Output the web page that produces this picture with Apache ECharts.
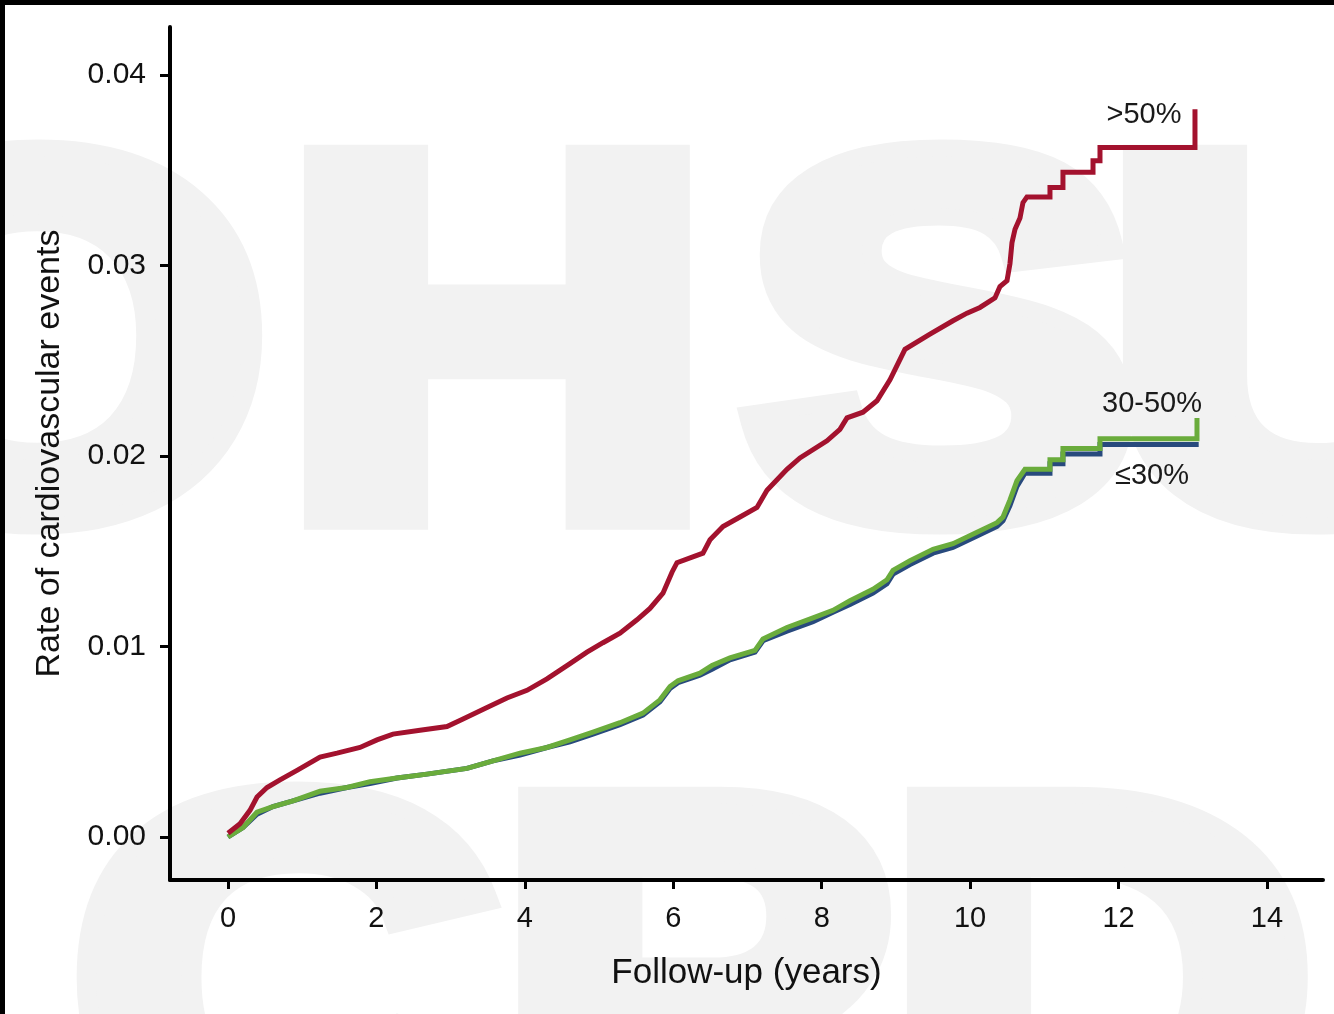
<!DOCTYPE html>
<html>
<head>
<meta charset="utf-8">
<script src="https://cdn.jsdelivr.net/npm/echarts@6.0.0/dist/echarts.min.js"></script>
<style>
html,body{margin:0;padding:0;background:#fff;}
#chart{width:1334px;height:1014px;}
</style>
</head>
<body>
<div id="chart"></div>
<script>
// ---- data ----
const xTicks = [0, 2, 4, 6, 8, 10, 12, 14];
const yTicks = [0, 0.01, 0.02, 0.03, 0.04];

const seriesNames = ['>50%', '30-50%', '≤30%'];

// >50%  (dense early part, then the visible steps of the tail)
const redT = [0, 0.162, 0.296, 0.391, 0.526, 0.701, 0.930, 1.240, 1.469, 1.779, 2.008, 2.223, 2.587, 2.951, 3.167, 3.490, 3.759, 4.029, 4.298, 4.608, 4.837, 5.053, 5.282, 5.511, 5.686, 5.861, 5.983, 6.050, 6.400, 6.495, 6.670, 6.899, 7.128, 7.263, 7.532, 7.707, 8.071, 8.246, 8.341, 8.556, 8.745, 8.920, 9.122, 9.459, 9.769, 9.958, 10.133, 10.335, 10.402, 10.497, 10.537, 10.564, 10.605, 10.672, 10.712, 10.766, 11.076, 11.076, 11.251, 11.251, 11.656, 11.656, 11.750, 11.750, 13.030, 13.030];
const redV = [0.0002, 0.0007, 0.0014, 0.0021, 0.0026, 0.0030, 0.0035, 0.0042, 0.0044, 0.0047, 0.0051, 0.0054, 0.0056, 0.0058, 0.0062, 0.0068, 0.0073, 0.0077, 0.0083, 0.0091, 0.0097, 0.0102, 0.0107, 0.0114, 0.0120, 0.0128, 0.0139, 0.0144, 0.0149, 0.0156, 0.0163, 0.0168, 0.0173, 0.0182, 0.0193, 0.0199, 0.0208, 0.0214, 0.0220, 0.0223, 0.0229, 0.0240, 0.0256, 0.0264, 0.0271, 0.0275, 0.0278, 0.0283, 0.0289, 0.0292, 0.0301, 0.0312, 0.0319, 0.0325, 0.0333, 0.0336, 0.0336, 0.0341, 0.0341, 0.0349, 0.0349, 0.0355, 0.0355, 0.0362, 0.0362, 0.0382];

// 30-50%
const greenT = [0, 0.202, 0.391, 0.606, 0.876, 1.240, 1.603, 1.913, 2.277, 2.681, 3.220, 3.571, 3.935, 4.298, 4.608, 4.918, 5.282, 5.592, 5.821, 5.956, 6.064, 6.360, 6.522, 6.764, 7.101, 7.209, 7.532, 7.883, 8.152, 8.381, 8.691, 8.880, 8.961, 9.190, 9.500, 9.769, 10.093, 10.362, 10.443, 10.537, 10.631, 10.739, 11.076, 11.076, 11.251, 11.251, 11.750, 11.750, 13.057, 13.057];
const greenV = [0.0000, 0.0005, 0.0013, 0.0016, 0.0019, 0.0024, 0.0026, 0.0029, 0.0031, 0.0033, 0.0036, 0.0040, 0.0044, 0.0047, 0.0051, 0.0055, 0.0060, 0.0065, 0.0072, 0.0079, 0.0082, 0.0086, 0.0090, 0.0094, 0.0098, 0.0104, 0.0110, 0.0115, 0.0119, 0.0124, 0.0130, 0.0135, 0.0140, 0.0145, 0.0151, 0.0154, 0.0160, 0.0165, 0.0168, 0.0177, 0.0187, 0.0193, 0.0193, 0.0198, 0.0198, 0.0204, 0.0204, 0.0209, 0.0209, 0.0220];

// ≤30%
const blueT = [0, 0.202, 0.391, 0.606, 0.876, 1.240, 1.603, 1.913, 2.277, 2.681, 3.220, 3.571, 3.935, 4.298, 4.608, 4.918, 5.282, 5.592, 5.821, 5.956, 6.064, 6.360, 6.522, 6.764, 7.101, 7.209, 7.532, 7.883, 8.152, 8.381, 8.691, 8.880, 8.961, 9.190, 9.500, 9.769, 10.093, 10.362, 10.443, 10.537, 10.631, 10.739, 11.076, 11.076, 11.251, 11.251, 11.750, 11.750, 13.080];
const blueV = [0.0000, 0.0005, 0.0012, 0.0016, 0.0019, 0.0023, 0.0026, 0.0028, 0.0031, 0.0033, 0.0036, 0.0040, 0.0043, 0.0047, 0.0050, 0.0054, 0.0059, 0.0064, 0.0071, 0.0078, 0.0081, 0.0085, 0.0088, 0.0093, 0.0097, 0.0103, 0.0108, 0.0113, 0.0118, 0.0122, 0.0128, 0.0133, 0.0138, 0.0143, 0.0149, 0.0152, 0.0158, 0.0163, 0.0166, 0.0174, 0.0184, 0.0191, 0.0191, 0.0196, 0.0196, 0.0201, 0.0201, 0.0206, 0.0206];

// ---- chart ----
const pairs = (t, v) => t.map((x, i) => [x, v[i]]);
const FONT = 'Liberation Sans, Arial, Helvetica, sans-serif';

const wm = (ch, x, y) => ({
  type: 'text', x: x, y: y, z: -100, silent: true, scaleX: 1.156,
  style: { text: ch, fontSize: 510, fontWeight: 'bold', fontFamily: 'Liberation Sans, sans-serif',
           fill: '#f2f2f2', stroke: '#f2f2f2', lineWidth: 34, lineJoin: 'round',
           textAlign: 'center', textVerticalAlign: 'middle' }
});

const chart = echarts.init(document.getElementById('chart'), null, { renderer: 'canvas' });
chart.setOption({
  animation: false,
  backgroundColor: '#ffffff',
  grid: { left: 170, top: 27, width: 1153, height: 853, containLabel: false },
  xAxis: {
    type: 'value', min: -0.7815, max: 14.755,
    name: 'Follow-up (years)', nameLocation: 'middle', nameGap: 76,
    nameTextStyle: { fontSize: 35, color: '#111', fontFamily: FONT },
    splitLine: { show: false },
    axisLine: { onZero: false, lineStyle: { color: '#000', width: 4 } },
    axisTick: { show: true, length: 9, lineStyle: { color: '#000', width: 3 }, customValues: xTicks },
    axisLabel: { customValues: xTicks, fontSize: 29, color: '#111', margin: 24, fontFamily: FONT }
  },
  yAxis: {
    type: 'value', min: -0.002257, max: 0.04252,
    name: 'Rate of cardiovascular events', nameLocation: 'middle', nameGap: 103,
    nameTextStyle: { fontSize: 34, color: '#111', fontFamily: FONT },
    splitLine: { show: false },
    axisLine: { onZero: false, lineStyle: { color: '#000', width: 4 } },
    axisTick: { show: true, length: 10, lineStyle: { color: '#000', width: 3 }, customValues: yTicks },
    axisLabel: { customValues: yTicks, fontSize: 30, color: '#111', margin: 24, fontFamily: FONT,
                 formatter: v => v.toFixed(2) }
  },
  series: [
    { name: seriesNames[2], type: 'line', showSymbol: false, z: 3,
      data: pairs(blueT, blueV), lineStyle: { color: '#284a7d', width: 5, join: 'miter' } },
    { name: seriesNames[1], type: 'line', showSymbol: false, z: 4,
      data: pairs(greenT, greenV), lineStyle: { color: '#6aac3c', width: 5, join: 'miter' } },
    { name: seriesNames[0], type: 'line', showSymbol: false, z: 5,
      data: pairs(redT, redV), lineStyle: { color: '#a3122e', width: 5, join: 'miter' } }
  ],
  graphic: [
    wm('O', 38, 372), wm('H', 497, 372), wm('S', 940, 372), wm('U', 1320, 372),
    wm('C', 285, 1014), wm('P', 695, 1014), wm('D', 1100, 1014),
    { type: 'rect', z: 100, shape: { x: 0, y: 0, width: 1334, height: 5 }, style: { fill: '#000' } },
    { type: 'rect', z: 100, shape: { x: 0, y: 0, width: 5, height: 1014 }, style: { fill: '#000' } },
    { type: 'text', x: 1144, y: 115, z: 50, style: { text: seriesNames[0], fontSize: 29, fontFamily: FONT, fill: '#1a1a1a', textAlign: 'center', textVerticalAlign: 'middle' } },
    { type: 'text', x: 1152, y: 404, z: 50, style: { text: seriesNames[1], fontSize: 29, fontFamily: FONT, fill: '#1a1a1a', textAlign: 'center', textVerticalAlign: 'middle' } },
    { type: 'text', x: 1152, y: 476, z: 50, style: { text: seriesNames[2], fontSize: 29, fontFamily: FONT, fill: '#1a1a1a', textAlign: 'center', textVerticalAlign: 'middle' } }
  ]
});
</script>
</body>
</html>
